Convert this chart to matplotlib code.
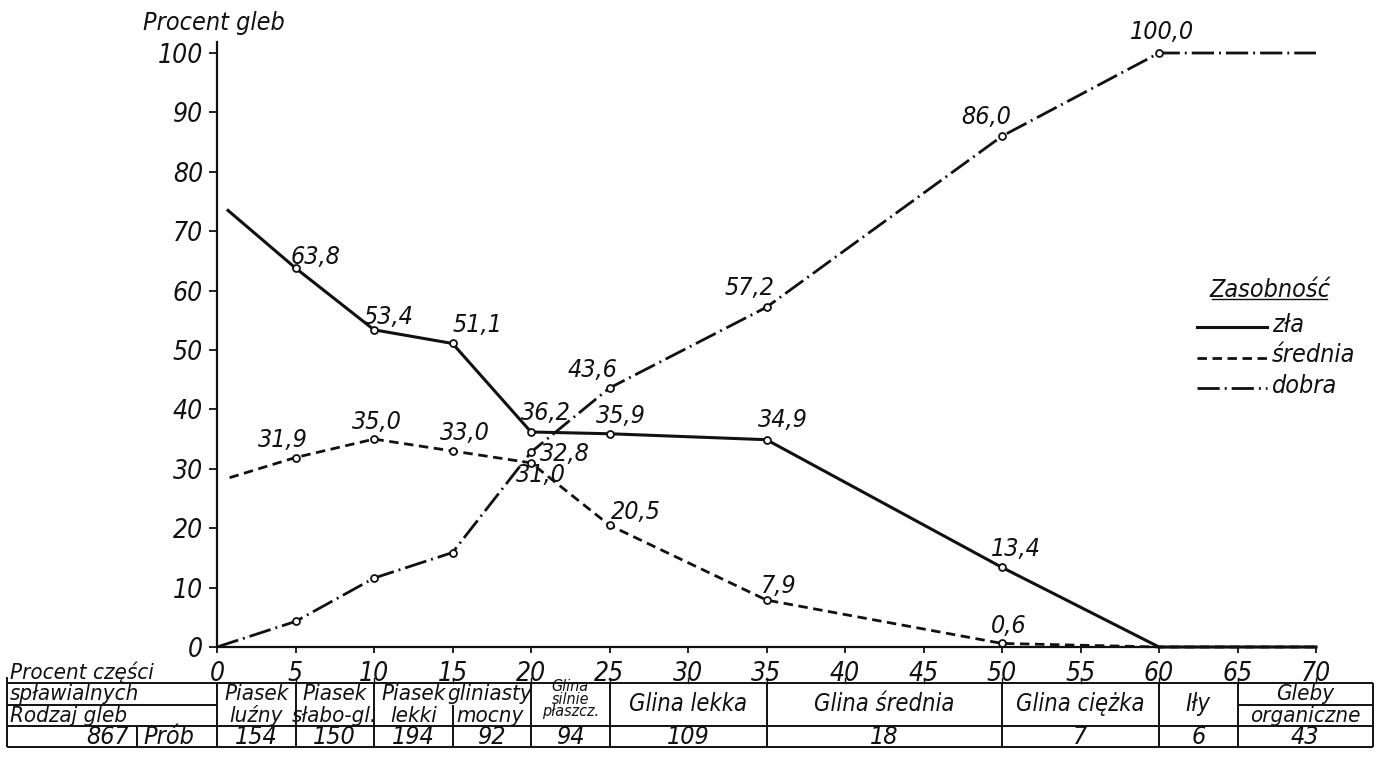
import matplotlib
matplotlib.use("Agg")
import matplotlib.pyplot as plt
from matplotlib import font_manager as fm

INK = "#111111"

# pick a narrow italic face if one is installed, else shrink a regular one
_fonts = fm.fontManager.ttflist
_names = {f.name for f in _fonts}
_cond = [f for f in _fonts if "condensed" in str(f.stretch) or "narrow" in f.name.lower()
         or "condensed" in f.name.lower()]
if "Liberation Sans Narrow" in _names:
    FAMILY, STRETCH, FS = "Liberation Sans Narrow", "normal", 1.0
elif _cond:
    FAMILY, STRETCH, FS = _cond[0].name, "condensed", 1.0
else:
    FAMILY, STRETCH, FS = "Roboto", "normal", 0.86

plt.rcParams.update({
    "font.family": [FAMILY, "DejaVu Sans"],
    "font.style": "italic",
    "font.stretch": STRETCH,
    "text.color": INK,
    "axes.edgecolor": INK,
    "xtick.color": INK,
    "ytick.color": INK,
})

# ── data ────────────────────────────────────────────────────────────────────
x_pts = [5, 10, 15, 20, 25, 35, 50, 60]
zla = [63.8, 53.4, 51.1, 36.2, 35.9, 34.9, 13.4, 0.0]
srednia = [31.9, 35.0, 33.0, 31.0, 20.5, 7.9, 0.6, 0.0]
dobra = [4.3, 11.6, 15.9, 32.8, 43.6, 57.2, 86.0, 100.0]
zla_start, srednia_start, dobra_start = (0.7, 73.5), (0.8, 28.5), (0.0, 0.0)
x_end = 70

class_edges = [0, 5, 10, 15, 20, 25, 35, 50, 60, 65, 73.6]
soil_names = ["Piasek\nluźny", "Piasek\nsłabo-gl.", "Piasek\nlekki", "gliniasty\nmocny",
              "Glina\nsilnie\npłaszcz.", "Glina lekka", "Glina średnia",
              "Glina ciężka", "Iły", "Gleby\norganiczne"]
sample_counts = [154, 150, 194, 92, 94, 109, 18, 7, 6, 43]
total_samples = 867

# label offsets in pixels (dx, dy) per point, None = no label
zla_off = [(20, 11), (14, 13), (25, 18), (15, 19), (11, 18), (16, 20), (14, 18), None]
sre_off = [(-13, 18), (3, 17), (12, 18), (10, -12), (26, 13), (12, 14), (7, 17), None]
dob_off = [None, None, None, (34, -2), (-17, 18), (-17, 19), (-16, 19), (3, 21)]


def fmt(v):
    return f"{v:.1f}".replace(".", ",")


fig = plt.figure(figsize=(13.88, 7.8), dpi=100)
L, W = 217 / 1388, 1099 / 1388
ax = fig.add_axes([L, 133 / 780, W, 605 / 780])
ax.set_xlim(0, 70)
ax.set_ylim(0, 605 / 5.94)

solid = "-"
dashed = (0, (3.4, 2.0))
dashdot = (0, (8, 1.8, 0.7, 1.8))
series = [
    (zla_start, zla, solid, 2.2, zla_off, [1, 2, 3, 4, 5, 6, 7]),
    (srednia_start, srednia, dashed, 2.0, sre_off, [1, 2, 3, 4, 5, 6, 7]),
    (dobra_start, dobra, dashdot, 2.0, dob_off, [1, 2, 3, 4, 5, 6, 7, 8]),
]
for start, vals, ls, lw, offs, marks in series:
    xs = [start[0]] + x_pts + [x_end]
    ys = [start[1]] + vals + [vals[-1]]
    ax.plot(xs, ys, color=INK, lw=lw, ls=ls, marker="o", markevery=marks,
            ms=5, mfc="white", mec=INK, mew=1.3, clip_on=False, zorder=3)
    for x, v, off in zip(x_pts, vals, offs):
        if off is None:
            continue
        ax.annotate(fmt(v), (x, v), xytext=off, textcoords="offset pixels",
                    ha="center", va="center", fontsize=18 * FS, zorder=4)

for s in ["top", "right"]:
    ax.spines[s].set_visible(False)
for s in ["left", "bottom"]:
    ax.spines[s].set_linewidth(1.6)
ax.set_xticks(range(0, 71, 5))
ax.set_yticks(range(0, 101, 10))
ax.tick_params(axis="y", direction="out", length=6, width=1.3, pad=4, labelsize=19 * FS)
ax.tick_params(axis="x", direction="out", length=4, width=1.3, pad=6, labelsize=19 * FS)

fig.text(143 / 1388, 1 - 23 / 780, "Procent gleb", ha="left", va="center", fontsize=18 * FS)

# legend
lx0, lx1 = 0.892, 0.955
ax.text(0.958, 0.590, "Zasobność", transform=ax.transAxes, ha="center", va="center",
        fontsize=18 * FS)
ax.plot([0.905, 1.010], [0.576, 0.576], transform=ax.transAxes, color=INK, lw=1.0, clip_on=False)
for (name, ls, lw), y in zip([("zła", solid, 2.2), ("średnia", dashed, 2.0), ("dobra", dashdot, 2.0)],
                             [0.529, 0.478, 0.428]):
    ax.plot([lx0, lx1], [y, y], transform=ax.transAxes, color=INK, ls=ls, lw=lw, clip_on=False)
    ax.text(0.960, y + 0.004, name, transform=ax.transAxes, ha="left", va="center",
            fontsize=18 * FS)

# ── table below the axis ───────────────────────────────────────────────────
tab = fig.add_axes([L, 0, W, 133 / 780])
tab.set_xlim(0, 70)
tab.set_ylim(133, 0)
tab.axis("off")
top, mid, cnt, bot = 36, 58, 79, 100
left_edge, prob_edge = -13.4, -5.1
right_edge = class_edges[-1]
kw = dict(color=INK, lw=1.4, clip_on=False, solid_capstyle="butt")

for y in (top, cnt, bot):
    tab.plot([left_edge, right_edge], [y, y], **kw)
tab.plot([left_edge, 0], [mid, mid], **kw)
tab.plot([65, right_edge], [mid, mid], **kw)
tab.plot([left_edge, left_edge], [top - 6, bot], **kw)
tab.plot([prob_edge, prob_edge], [cnt, bot], **kw)
for e in class_edges:
    y0 = mid if e == 15 else top
    tab.plot([e, e], [y0, bot], **kw)
for t in range(5, 71, 5):
    tab.plot([t, t], [top - 5, top], color=INK, lw=1.0, clip_on=False)

tab.text(-13.2, 25, "Procent części", ha="left", va="center", fontsize=16 * FS)
tab.text(-13.2, 47.5, "spławialnych", ha="left", va="center", fontsize=16 * FS)
tab.text(-13.2, 68.5, "Rodzaj gleb", ha="left", va="center", fontsize=16 * FS)
tab.text(prob_edge - 0.5, 89.5, str(total_samples), ha="right", va="center", fontsize=18 * FS)
tab.text(prob_edge + 0.4, 89.5, "Prób", ha="left", va="center", fontsize=18 * FS)

for i, (name, n) in enumerate(zip(soil_names, sample_counts)):
    lo, hi = class_edges[i], class_edges[i + 1]
    xc = (lo + hi) / 2
    tab.text(xc, 89.5, str(n), ha="center", va="center", fontsize=18 * FS)
    parts = name.split("\n")
    if len(parts) == 3:
        tab.text(xc, 52, name, ha="center", va="center", fontsize=11.5 * FS,
                 linespacing=0.78)
    elif len(parts) == 2:
        if lo == 15:
            xc = 17.4
        tab.text(xc, 47.5, parts[0], ha="center", va="center", fontsize=16 * FS)
        tab.text(xc, 68.5, parts[1], ha="center", va="center", fontsize=16 * FS)
    else:
        tab.text(xc, 57, name, ha="center", va="center", fontsize=17 * FS)

fig.savefig("out.png", dpi=100, facecolor="white")
